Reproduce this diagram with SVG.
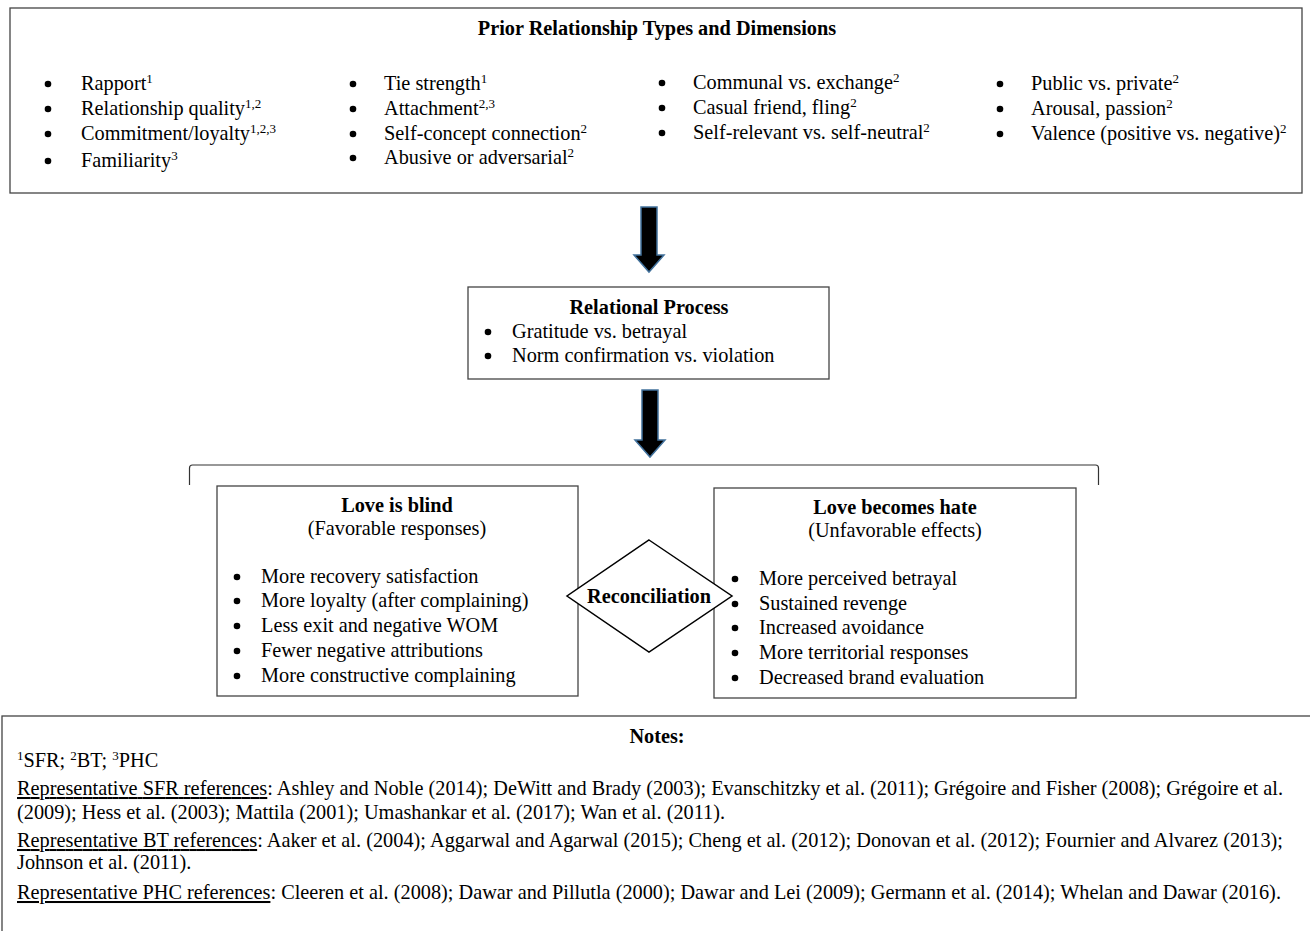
<svg xmlns="http://www.w3.org/2000/svg" width="1310" height="931" viewBox="0 0 1310 931">
<style>
text{font-family:"Liberation Serif","Times New Roman",serif;font-size:20.3px;fill:#000}
.b{font-weight:bold}
.c{text-anchor:middle}
.box{fill:#fff;stroke:#444;stroke-width:1.3}
.sup{font-size:13px}
.u{text-decoration:underline}
.arrow{fill:#000;stroke:#41719c;stroke-width:1.5}
</style>
<defs>
<circle id="dot" r="3.3" fill="#000"/>
</defs>
<rect width="1310" height="931" fill="#fff"/>

<g id="prior">
<rect class="box" x="10" y="8" width="1292" height="185"/>
<text class="b c" x="657" y="35">Prior Relationship Types and Dimensions</text>
<use href="#dot" x="48" y="84"/><text x="81" y="90">Rapport<tspan class="sup" dy="-7">1</tspan></text>
<use href="#dot" x="48" y="109"/><text x="81" y="115">Relationship quality<tspan class="sup" dy="-7">1,2</tspan></text>
<use href="#dot" x="48" y="134"/><text x="81" y="140">Commitment/loyalty<tspan class="sup" dy="-7">1,2,3</tspan></text>
<use href="#dot" x="48" y="161"/><text x="81" y="167">Familiarity<tspan class="sup" dy="-7">3</tspan></text>
<use href="#dot" x="353" y="84"/><text x="384" y="90">Tie strength<tspan class="sup" dy="-7">1</tspan></text>
<use href="#dot" x="353" y="109"/><text x="384" y="115">Attachment<tspan class="sup" dy="-7">2,3</tspan></text>
<use href="#dot" x="353" y="134"/><text x="384" y="140">Self-concept connection<tspan class="sup" dy="-7">2</tspan></text>
<use href="#dot" x="353" y="158"/><text x="384" y="164">Abusive or adversarial<tspan class="sup" dy="-7">2</tspan></text>
<use href="#dot" x="662" y="83"/><text x="693" y="89">Communal vs. exchange<tspan class="sup" dy="-7">2</tspan></text>
<use href="#dot" x="662" y="108"/><text x="693" y="114">Casual friend, fling<tspan class="sup" dy="-7">2</tspan></text>
<use href="#dot" x="662" y="133"/><text x="693" y="139">Self-relevant vs. self-neutral<tspan class="sup" dy="-7">2</tspan></text>
<use href="#dot" x="1000" y="84"/><text x="1031" y="90">Public vs. private<tspan class="sup" dy="-7">2</tspan></text>
<use href="#dot" x="1000" y="109"/><text x="1031" y="115">Arousal, passion<tspan class="sup" dy="-7">2</tspan></text>
<use href="#dot" x="1000" y="134"/><text x="1031" y="140">Valence (positive vs. negative)<tspan class="sup" dy="-7">2</tspan></text>
</g>

<g id="connectors">
<path class="arrow" d="M641,207 H657 V255 H664 L649,272 L634,255 H641 Z"/>
<path class="arrow" d="M642,390 H658 V440 H665 L650,457 L635,440 H642 Z"/>
<path d="M189.5,485 V468 Q189.5,465 192.5,465 H1095.5 Q1098.5,465 1098.5,468 V485" fill="none" stroke="#333" stroke-width="1.2"/>
</g>

<g id="relational">
<rect class="box" x="468" y="287" width="361" height="92"/>
<text class="b c" x="649" y="314">Relational Process</text>
<use href="#dot" x="488" y="332"/><text x="512" y="338">Gratitude vs. betrayal</text>
<use href="#dot" x="488" y="356"/><text x="512" y="362">Norm confirmation vs. violation</text>
</g>

<g id="blind">
<rect class="box" x="217" y="486" width="361" height="210"/>
<text class="b c" x="397" y="512">Love is blind</text>
<text class="c" x="397" y="535">(Favorable responses)</text>
<use href="#dot" x="237" y="577"/><text x="261" y="583">More recovery satisfaction</text>
<use href="#dot" x="237" y="601"/><text x="261" y="607">More loyalty (after complaining)</text>
<use href="#dot" x="237" y="626"/><text x="261" y="632">Less exit and negative WOM</text>
<use href="#dot" x="237" y="651"/><text x="261" y="657">Fewer negative attributions</text>
<use href="#dot" x="237" y="676"/><text x="261" y="682">More constructive complaining</text>
</g>

<g id="hate">
<rect class="box" x="714" y="488" width="362" height="210"/>
<text class="b c" x="895" y="514">Love becomes hate</text>
<text class="c" x="895" y="537">(Unfavorable effects)</text>
<use href="#dot" x="735" y="579"/><text x="759" y="585">More perceived betrayal</text>
<use href="#dot" x="735" y="604"/><text x="759" y="610">Sustained revenge</text>
<use href="#dot" x="735" y="628"/><text x="759" y="634">Increased avoidance</text>
<use href="#dot" x="735" y="653"/><text x="759" y="659">More territorial responses</text>
<use href="#dot" x="735" y="678"/><text x="759" y="684">Decreased brand evaluation</text>
</g>

<g id="reconciliation">
<path d="M649,540 L732,596 L649,652 L567,596 Z" fill="#fff" stroke="#000" stroke-width="1.5"/>
<text class="b c" x="649" y="603">Reconciliation</text>
</g>

<g id="notes">
<rect class="box" x="2" y="716" width="1330" height="240"/>
<text class="b c" x="657" y="743">Notes:</text>
<text x="17" y="767"><tspan class="sup" dy="-7">1</tspan><tspan dy="7">SFR; </tspan><tspan class="sup" dy="-7">2</tspan><tspan dy="7">BT; </tspan><tspan class="sup" dy="-7">3</tspan><tspan dy="7">PHC</tspan></text>
<text x="17" y="795" textLength="1266" lengthAdjust="spacing"><tspan class="u">Representative SFR references</tspan>: Ashley and Noble (2014); DeWitt and Brady (2003); Evanschitzky et al. (2011); Grégoire and Fisher (2008); Grégoire et al.</text>
<text x="17" y="819">(2009); Hess et al. (2003); Mattila (2001); Umashankar et al. (2017); Wan et al. (2011).</text>
<text x="17" y="847" textLength="1266" lengthAdjust="spacing"><tspan class="u">Representative BT references</tspan>: Aaker et al. (2004); Aggarwal and Agarwal (2015); Cheng et al. (2012); Donovan et al. (2012); Fournier and Alvarez (2013);</text>
<text x="17" y="869">Johnson et al. (2011).</text>
<text x="17" y="899"><tspan class="u">Representative PHC references</tspan>: Cleeren et al. (2008); Dawar and Pillutla (2000); Dawar and Lei (2009); Germann et al. (2014); Whelan and Dawar (2016).</text>
</g>
</svg>
